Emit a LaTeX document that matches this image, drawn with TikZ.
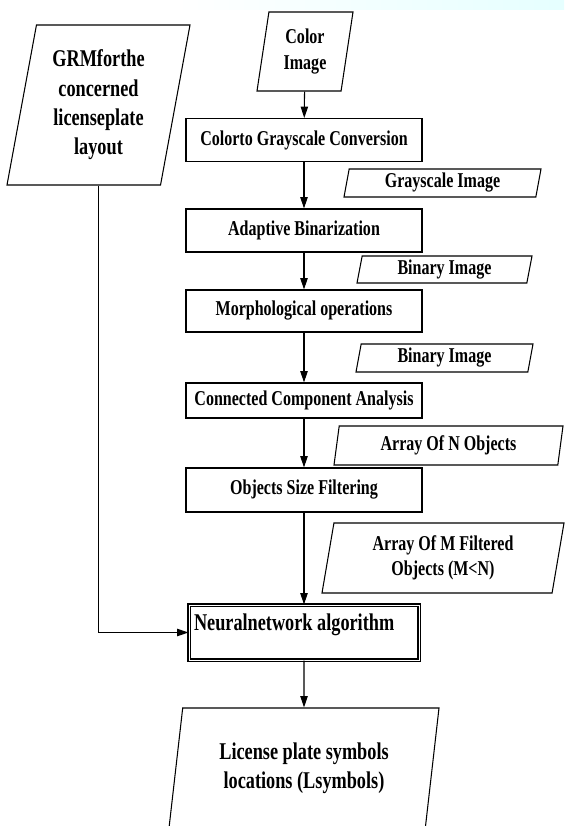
\documentclass[tikz,border=0pt]{standalone}
\usepackage{fontspec}
\setmainfont{Liberation Serif}[FakeStretch=0.76]
\usepackage{tikz}
\usetikzlibrary{positioning,arrows.meta,shapes.geometric}

\begin{document}
\begin{tikzpicture}[x=0.3mm, y=-0.3mm, >={Triangle[length=3.4mm,width=2.2mm]},
    line width=0.9pt,
    every node/.style={font=\bfseries\fontsize{18}{21.5}\selectfont, align=center, inner sep=0pt}]
  \def\px{0.3mm}
  \tikzset{
    procbox/.style={draw, rectangle, minimum width=236*\px, minimum height=43*\px},
    databox/.style={draw, trapezium, trapezium left angle=75, trapezium right angle=105,
                    trapezium stretches body},
    bigtext/.style={font=\bfseries\fontsize{20.5}{25}\selectfont}
  }
  \useasboundingbox (0,0) rectangle (564,826);
  \shade[left color=white, right color=cyan!10] (175,0) rectangle (564,9);

  \node[databox, bigtext, minimum width=183*\px, minimum height=160*\px] (grm)
      at (98.5,105) {GRMforthe\\concerned\\licenseplate\\layout};
  \node[databox, minimum width=96*\px, minimum height=79*\px] (color)
      at (305,51.5) {Color\\Image};
  \node[procbox] (conv) at (304,140) {Colorto Grayscale Conversion};
  \node[databox, minimum width=197*\px, minimum height=28*\px] (grayimg)
      at (442.5,183) {Grayscale Image};
  \node[procbox] (binar) at (304,230.5) {Adaptive Binarization};
  \node[databox, minimum width=175*\px, minimum height=27*\px] (binimg)
      at (444.5,269.5) {Binary Image};
  \node[procbox, minimum height=42*\px] (morph) at (304,311) {Morphological operations};
  \node[databox, minimum width=177*\px, minimum height=28*\px] (binimgb)
      at (444.5,358) {Binary Image};
  \node[procbox, minimum height=35*\px] (cca) at (304,400.5) {Connected Component Analysis};
  \node[databox, minimum width=229*\px, minimum height=39*\px] (objn)
      at (448.5,445.5) {Array Of N Objects};
  \node[procbox, minimum height=44*\px] (sizef) at (304,490) {Objects Size Filtering};
  \node[databox, minimum width=242*\px, minimum height=70*\px] (objm)
      at (443,558) {Array Of M Filtered\\Objects (M<N)};
  \node[procbox, bigtext, double, double distance=0.8pt, minimum width=230*\px,
        minimum height=55*\px, text width=220*\px, align=flush left] (nn)
      at (304,632.5) {Neuralnetwork algorithm\\[-8pt]~};
  \node[databox, bigtext, minimum width=270*\px, minimum height=120*\px] (lps)
      at (304,768) {License plate symbols\\locations (Lsymbols)};

  \draw[->] (color) -- (conv);
  \draw[->] (conv) -- (binar);
  \draw[->] (binar) -- (morph);
  \draw[->] (morph) -- (cca);
  \draw[->] (cca) -- (sizef);
  \draw[->] (sizef) -- (nn);
  \draw[->] (nn) -- (lps);
  \draw[->] (grm.south) |- (nn.west);
\end{tikzpicture}
\end{document}
